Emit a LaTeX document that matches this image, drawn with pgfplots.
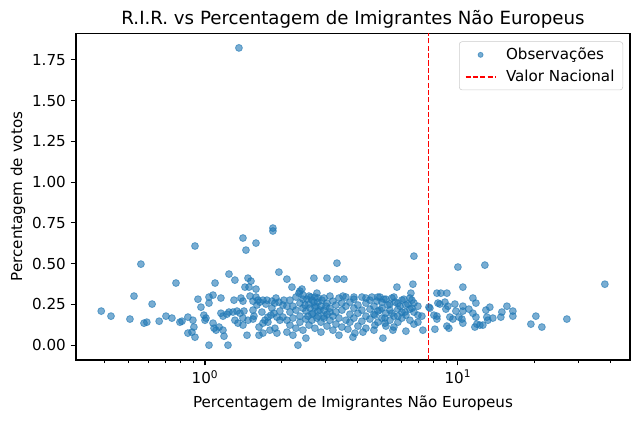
\documentclass[border=0pt]{standalone}
\usepackage{fontspec}
\setmainfont{DejaVu Sans}
\usepackage{pgfplots}
\pgfplotsset{compat=1.18}
\definecolor{mplblue}{HTML}{1F77B4}
\pgfplotsset{
  legscatter/.style={legend image code/.code={\draw[##1, mark size=1.8pt] plot coordinates {(0.38cm,0cm)};}},
  legline/.style={legend image code/.code={\draw[##1] (0cm,0cm) -- (0.76cm,0cm);}},
}
\begin{document}
\begin{tikzpicture}
\path[use as bounding box] (-54.7pt,-44.6pt) rectangle (406.1pt,259.2pt);
\begin{axis}[
  at={(0,0)}, anchor=south west,
  width=398.9pt, height=235.4pt, scale only axis,
  xmode=log, xmin=0.309, xmax=47.9, ymin=-0.091, ymax=1.914,
  xtick={1,10}, xticklabels={10\textsuperscript{0},10\textsuperscript{1}},
  minor xtick={0.4,0.5,0.6,0.7,0.8,0.9,2,3,4,5,6,7,8,9,20,30,40},
  ytick={0,0.25,0.5,0.75,1,1.25,1.5,1.75},
  yticklabel style={/pgf/number format/.cd, fixed, fixed zerofill, precision=2, assume math mode=true},
  tick label style={font=\fontsize{10.9}{13}\selectfont},
  tick align=outside, tick pos=left,
  major tick length=3.8pt, minor tick length=2.2pt,
  tick style={black, line width=0.8pt},
  minor tick style={black, line width=0.6pt},
  axis line style={black, line width=0.8pt},
  every axis title/.style={at={(axis description cs:0.5,1)}, anchor=center, yshift=10pt, font=\fontsize{13.1}{15}\selectfont},
  every axis x label/.style={at={(axis description cs:0.5,0)}, anchor=center, yshift=-31pt, font=\fontsize{10.9}{13}\selectfont},
  every axis y label/.style={at={(axis description cs:0,0.5)}, xshift=-41.8pt, rotate=90, anchor=center, font=\fontsize{10.9}{13}\selectfont},
  title={R.I.R. vs Percentagem de Imigrantes Não Europeus},
  xlabel={Percentagem de Imigrantes Não Europeus},
  ylabel={Percentagem de votos},
  legend style={at={(axis description cs:1,1)}, anchor=north east, xshift=-5pt, yshift=-6pt, draw=black!20, rounded corners=2pt, fill=white, fill opacity=0.8, text opacity=1, font=\fontsize{10.9}{13}\selectfont, inner xsep=4pt, inner ysep=2.5pt, row sep=2pt, column sep=5pt},
  legend cell align=left,
]
\addplot[only marks, mark=*, mark size=2.5pt, color=mplblue, opacity=0.6, line width=0.6pt, legscatter] coordinates {
(0.389,0.209) (0.425,0.178) (0.505,0.160) (0.524,0.301) (0.558,0.497) (0.574,0.135) (0.589,0.141) (0.618,0.252) (0.659,0.147) (0.701,0.178) (0.740,0.166) (0.768,0.381) (0.796,0.141)
(0.811,0.147) (0.856,0.172) (0.896,0.153) (0.904,0.111) (0.856,0.074) (0.888,0.080) (0.913,0.049) (0.913,0.608) (0.938,0.282) (0.964,0.233) (0.990,0.184) (1.009,0.166) (1.000,0.153) (1.037,0.000) (1.037,0.295) (1.076,0.307) (1.037,0.258) (1.096,0.381) (1.076,0.135) (1.086,0.104) (1.106,0.092) (1.137,0.111) (1.156,0.289) (1.156,0.196) (1.178,0.178) (1.222,0.190) (1.244,0.203) (1.178,0.092) (1.189,0.055) (1.233,0.000) (1.244,0.436) (1.313,0.399) (1.302,0.276) (1.388,0.289) (1.413,0.270) (1.362,1.823) (1.413,0.657) (1.452,0.583) (1.591,0.626) (1.466,0.061) (1.479,0.411) (1.520,0.393) (1.439,0.356) (1.493,0.356) (1.591,0.344) (1.313,0.153) (1.350,0.135) (1.413,0.123) (1.413,0.166) (1.479,0.153) (1.548,0.160) (1.290,0.203) (1.338,0.209) (1.375,0.196) (1.426,0.209) (1.548,0.270) (1.605,0.246) (1.649,0.264) (1.695,0.276) (1.758,0.276) (1.839,0.270) (1.890,0.258) (1.960,0.264) (2.033,0.246) (2.108,0.239) (1.635,0.111) (1.695,0.135) (1.726,0.153) (1.774,0.172) (1.822,0.184) (1.873,0.196) (1.925,0.172) (1.978,0.153) (2.033,0.172) (2.108,0.153) (1.635,0.061) (1.695,0.074) (1.806,0.092) (1.890,0.104) (1.925,0.074) (2.108,0.080) (1.856,0.718) (1.856,0.700) (1.960,0.448) (2.108,0.405) (1.591,0.295) (1.548,0.215)
(1.506,0.301) (1.620,0.276) (1.742,0.252) (1.839,0.227) (1.978,0.209) (1.679,0.203) (1.908,0.289) (2.051,0.276) (1.774,0.141) (1.562,0.178)
(2.207,0.356) (2.352,0.319) (2.417,0.344) (2.373,0.332) (2.695,0.411) (3.036,0.411) (3.325,0.503) (3.325,0.405) (3.543,0.405) (5.739,0.356) (6.699,0.546) (6.638,0.374) (2.331,0.000) (3.674,0.098) (3.845,0.049) (3.915,0.074) (4.212,0.080) (5.052,0.043) (4.697,0.123) (3.511,0.301) (3.880,0.295) (4.328,0.289) (4.916,0.295) (5.483,0.289) (2.770,0.319) (5.533,0.092) (5.145,0.135) (6.518,0.319) (6.578,0.276) (7.204,0.178) (7.270,0.092) (8.109,0.098) (7.748,0.227) (8.259,0.319) (8.563,0.319) (9.045,0.319) (8.334,0.258) (9.997,0.479) (12.78,0.491) (10.46,0.356) (38.10,0.374) (11.46,0.289) (11.78,0.258) (9.128,0.239) (8.963,0.221) (9.816,0.209) (10.46,0.239) (10.46,0.209) (11.05,0.221) (13.37,0.233) (12.90,0.215) (14.92,0.203) (15.62,0.239) (16.49,0.209) (16.49,0.178) (8.036,0.184) (8.259,0.178) (8.259,0.160) (9.294,0.172) (9.551,0.160) (10.09,0.172) (10.37,0.160) (11.46,0.196) (11.78,0.172) (13.01,0.172) (13.13,0.153) (13.74,0.166) (14.78,0.172) (10.46,0.135) (9.045,0.117) (9.211,0.104) (11.67,0.111) (11.88,0.129) (12.21,0.123) (12.55,0.123) (19.43,0.129) (20.33,0.178) (21.47,0.111) (26.96,0.160) (7.679,0.233) (8.882,0.264) (8.486,0.252) (9.727,0.252)
(2.439,0.307) (2.529,0.282) (2.623,0.295) (2.695,0.264) (2.795,0.289) (2.484,0.246) (2.599,0.227) (2.745,0.239) (2.848,0.215) (2.671,0.196) (2.552,0.178) (2.900,0.276) (3.008,0.239) (3.119,0.203) (2.770,0.166) (2.954,0.178)
(4.571,0.295) (4.784,0.270) (5.098,0.282) (5.288,0.246) (5.635,0.264) (5.897,0.239) (6.116,0.282) (6.343,0.252) (6.578,0.227) (4.916,0.215) (5.483,0.196) (5.791,0.178) (6.172,0.203) (5.145,0.166) (4.697,0.184)
(2.167,0.276) (2.167,0.203) (2.167,0.123)
(2.227,0.239) (2.227,0.166) (2.227,0.061)
(2.289,0.295) (2.289,0.215) (2.289,0.104)
(2.373,0.258) (2.373,0.178) (2.373,0.141)
(2.439,0.282) (2.439,0.227) (2.439,0.092)
(2.506,0.209) (2.506,0.160) (2.506,0.043)
(2.576,0.301) (2.576,0.252) (2.576,0.123)
(2.647,0.276) (2.647,0.190) (2.647,0.153)
(2.720,0.295) (2.720,0.233) (2.720,0.104)
(2.795,0.264) (2.795,0.209) (2.795,0.178)
(2.874,0.239) (2.874,0.141) (2.874,0.080)
(2.954,0.289) (2.954,0.215) (2.954,0.166)
(3.036,0.258) (3.036,0.190) (3.036,0.117)
(3.119,0.301) (3.119,0.227) (3.119,0.153)
(3.205,0.270) (3.205,0.178) (3.205,0.092)
(3.294,0.246) (3.294,0.203) (3.294,0.129)
(3.386,0.289) (3.386,0.166) (3.386,0.061)
(3.479,0.258) (3.479,0.215) (3.479,0.111)
(3.608,0.295) (3.608,0.239) (3.608,0.153)
(3.741,0.264) (3.741,0.190) (3.741,0.141)
(3.880,0.282) (3.880,0.227) (3.880,0.166)
(4.024,0.246) (4.024,0.196) (4.024,0.117)
(4.173,0.295) (4.173,0.215) (4.173,0.147)
(4.328,0.258) (4.328,0.178) (4.328,0.104)
(4.488,0.276) (4.488,0.221) (4.488,0.160)
(4.655,0.239) (4.655,0.190) (4.655,0.092)
(4.827,0.295) (4.827,0.209) (4.827,0.141)
(5.006,0.264) (5.006,0.227) (5.006,0.166)
(5.192,0.282) (5.192,0.196) (5.192,0.117)
(5.384,0.252) (5.384,0.215) (5.384,0.153)
(5.584,0.295) (5.584,0.178) (5.584,0.111)
(5.791,0.258) (5.791,0.221) (5.791,0.141)
(6.006,0.276) (6.006,0.203) (6.006,0.166)
(6.228,0.246) (6.228,0.184) (6.228,0.086)
(6.459,0.289) (6.459,0.221) (6.459,0.153)
(6.699,0.258) (6.699,0.203) (6.699,0.129)
(6.947,0.239) (6.947,0.184) (6.947,0.141)
};
\addlegendentry{Observações}
\addplot[red, line width=1pt, dash pattern=on 3.7pt off 1.6pt, legline] coordinates {(7.63,-0.091) (7.63,1.914)};
\addlegendentry{Valor Nacional}
\end{axis}
\end{tikzpicture}
\end{document}
